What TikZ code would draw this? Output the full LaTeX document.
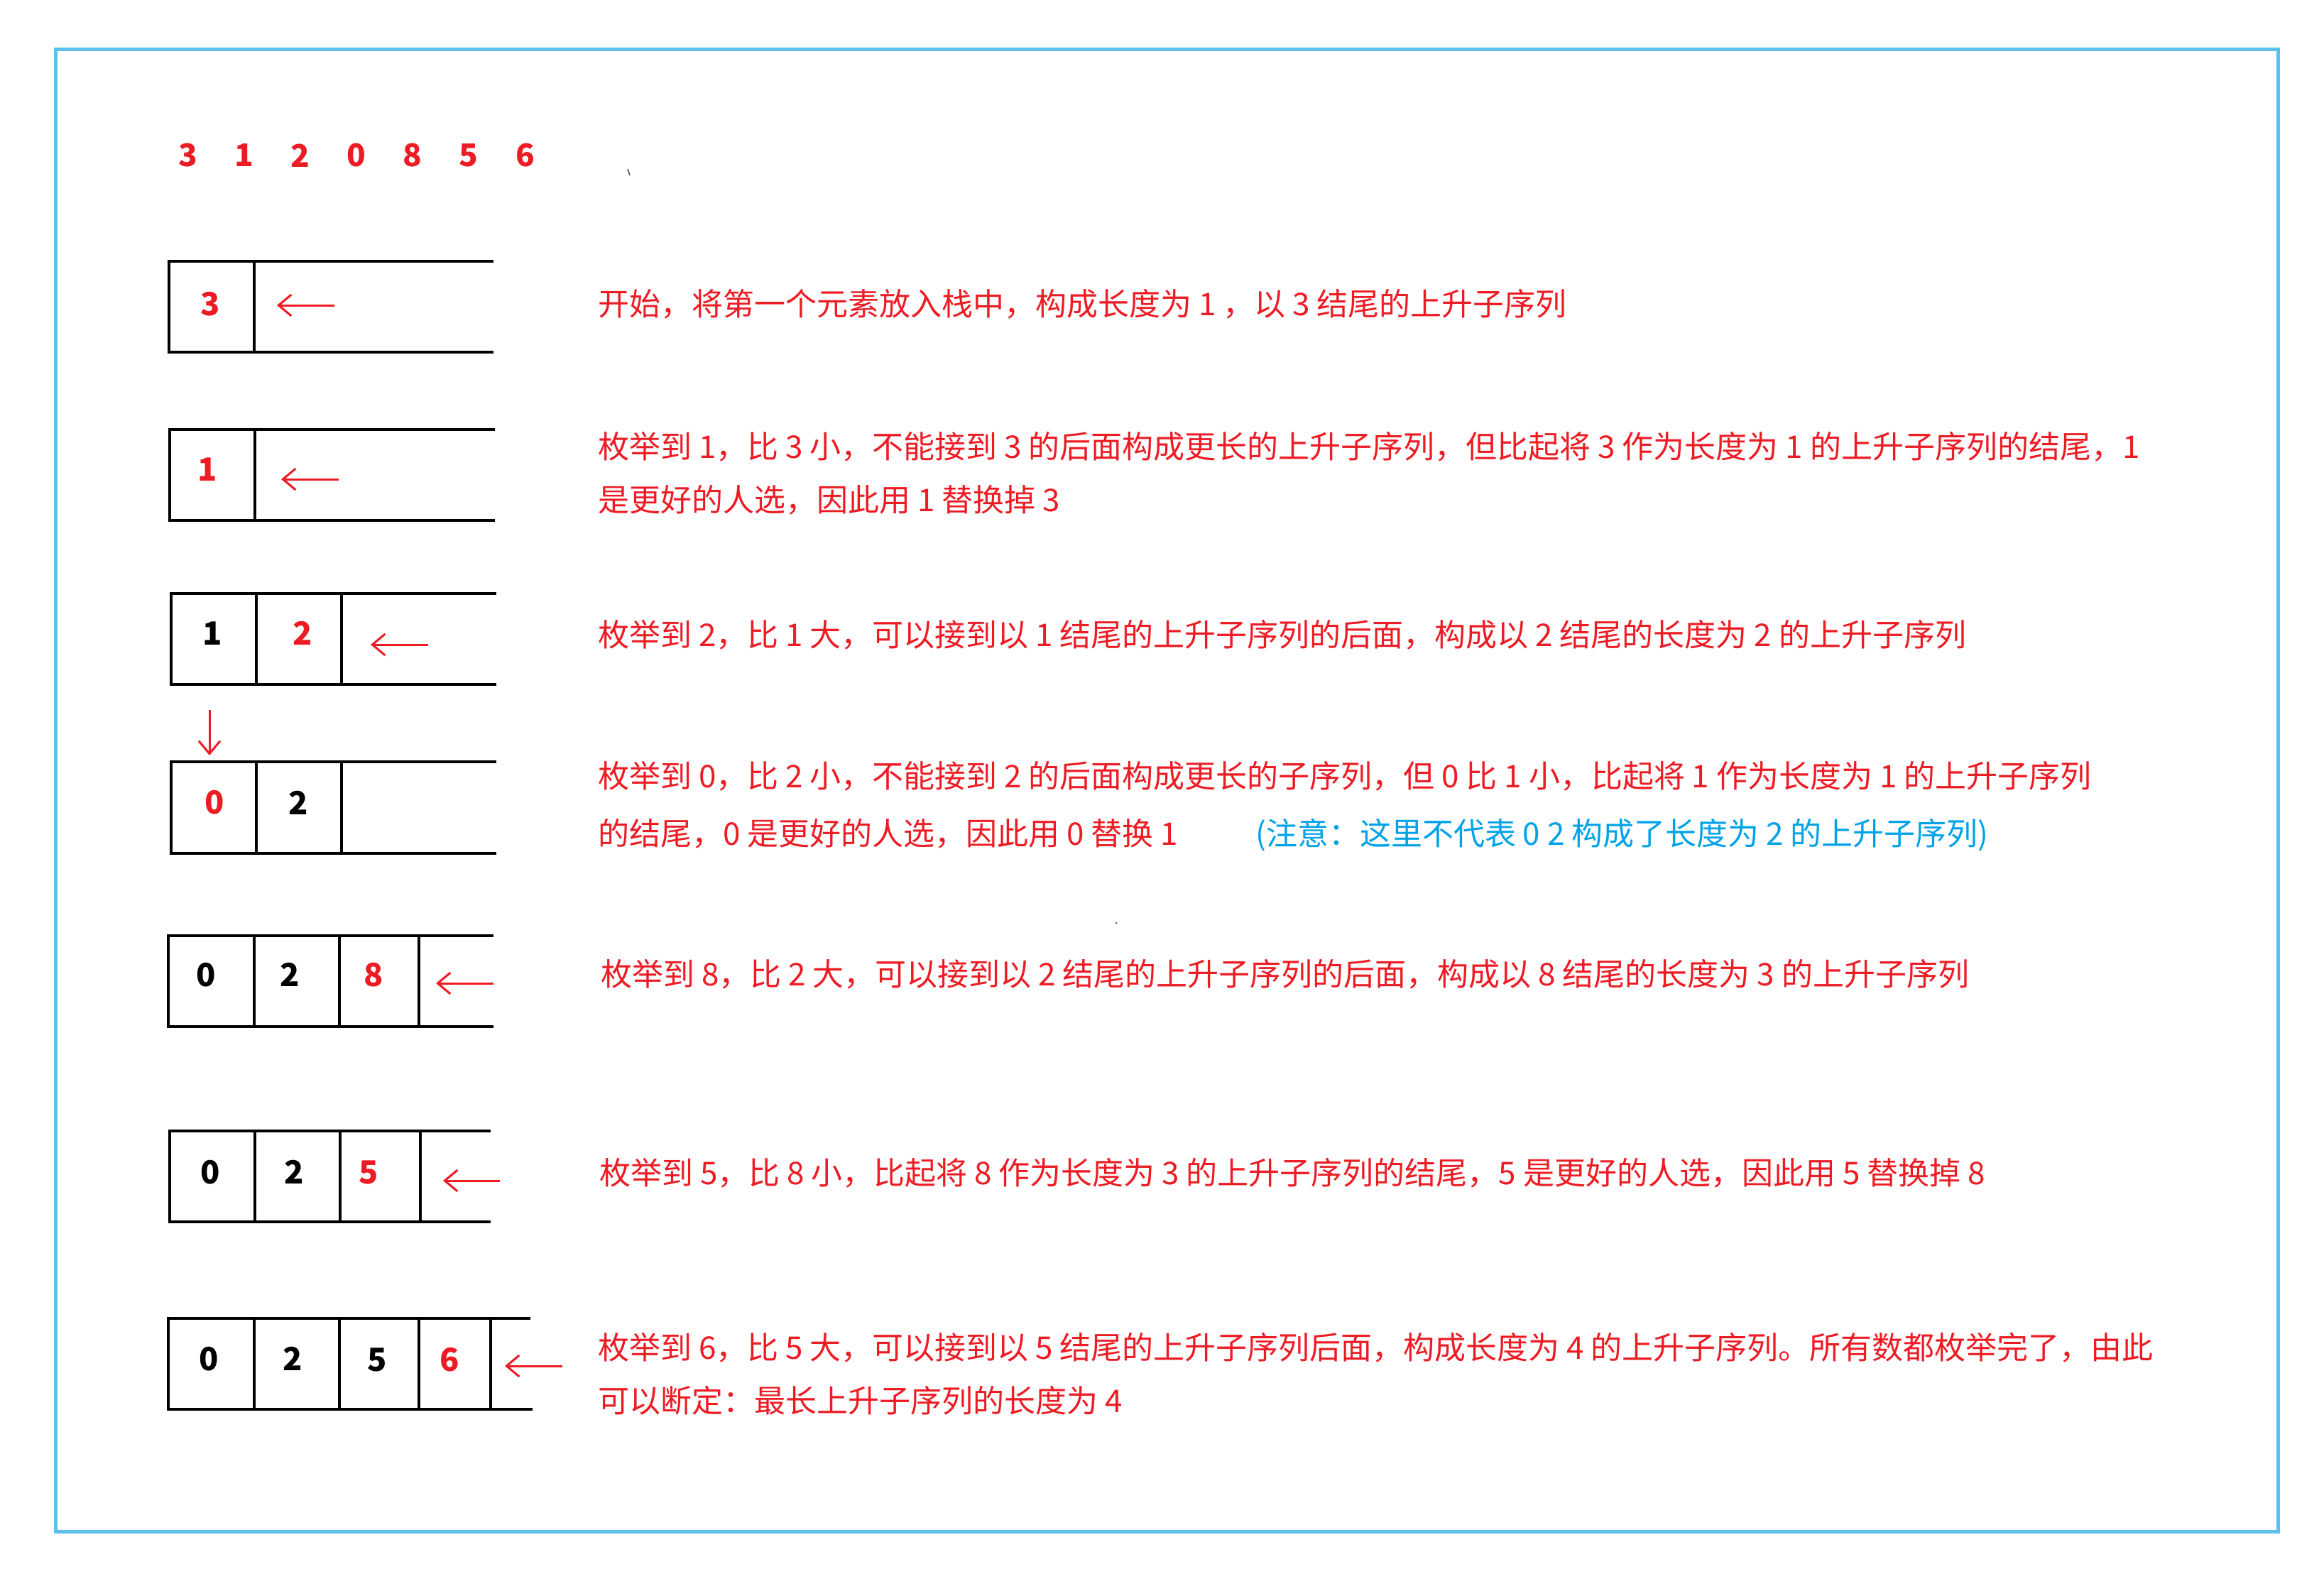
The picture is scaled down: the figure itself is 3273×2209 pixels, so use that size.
\documentclass[tikz,border=0pt]{standalone}
\usepackage{fontspec}
\setmainfont{Noto Sans CJK SC}
\usetikzlibrary{arrows.meta}
\definecolor{tred}{RGB}{237,28,36}
\definecolor{tblue}{RGB}{0,162,232}
\definecolor{fblue}{RGB}{92,192,235}
\begin{document}
\begin{tikzpicture}[x=1pt,y=-1pt,
  desc/.style={anchor=base west, inner sep=0pt, text=tred, font=\fontsize{44}{52}\selectfont},
  digit/.style={inner sep=0pt, font=\fontsize{45}{54}\selectfont\bfseries},
  topnum/.style={inner sep=0pt, text=tred, font=\fontsize{44}{52}\selectfont\bfseries},
  cellline/.style={line width=4pt, black},
  ptr/.style={draw=tred, line width=3pt, -{Straight Barb[length=18pt,width=30pt]}}]
\useasboundingbox (0,0) rectangle (3273,2209);
\fill[white] (0,0) rectangle (3273,2209);
\draw[fblue, line width=5pt] (78,69) rectangle (3208,2157);

% sequence
\node[topnum] (s1) at (265,219) {3};
\node[topnum] (s2) at (344,219) {1};
\node[topnum] (s3) at (423,219) {2};
\node[topnum] (s4) at (502,219) {0};
\node[topnum] (s5) at (581,219) {8};
\node[topnum] (s6) at (660,219) {5};
\node[topnum] (s7) at (740,219) {6};
\draw[black!70, line width=1.5pt] (884,238) -- (887,247);

% row 1
\draw[cellline] (695,368) -- (238,368) -- (238,496) -- (695,496);
\draw[cellline] (358,368) -- (358,496);
\node[digit, text=tred] (r1a) at (296,428) {3};
\coordinate (r1t) at (471,430); \coordinate (r1h) at (390,430);
\draw[ptr] (r1t) -- (r1h);
\node[desc] (t1) at (842,444) {开始，将第一个元素放入栈中，构成长度为 1 ，以 3 结尾的上升子序列};

% row 2
\draw[cellline] (697,605) -- (239,605) -- (239,733) -- (697,733);
\draw[cellline] (359,605) -- (359,733);
\node[digit, text=tred] (r2a) at (292,661) {1};
\coordinate (r2t) at (477,675); \coordinate (r2h) at (396,675);
\draw[ptr] (r2t) -- (r2h);
\node[desc] (t2a) at (842,645) {枚举到 1，比 3 小，不能接到 3 的后面构成更长的上升子序列，但比起将 3 作为长度为 1 的上升子序列的结尾，1};
\node[desc] (t2b) at (842,720) {是更好的人选，因此用 1 替换掉 3};

% row 3
\draw[cellline] (699,836) -- (241,836) -- (241,964) -- (699,964);
\draw[cellline] (361,836) -- (361,964);
\draw[cellline] (481,836) -- (481,964);
\node[digit] (r3a) at (299,892) {1};
\node[digit, text=tred] (r3b) at (426,892) {2};
\coordinate (r3t) at (603,908); \coordinate (r3h) at (522,908);
\draw[ptr] (r3t) -- (r3h);
\node[desc] (t3) at (842,910) {枚举到 2，比 1 大，可以接到以 1 结尾的上升子序列的后面，构成以 2 结尾的长度为 2 的上升子序列};

% down arrow
\coordinate (dt) at (295,1000); \coordinate (dh) at (295,1064);
\draw[ptr] (dt) -- (dh);

% row 4
\draw[cellline] (699,1073) -- (241,1073) -- (241,1202) -- (699,1202);
\draw[cellline] (361,1073) -- (361,1202);
\draw[cellline] (481,1073) -- (481,1202);
\node[digit, text=tred] (r4a) at (302,1130) {0};
\node[digit] (r4b) at (420,1131) {2};
\node[desc] (t4a) at (842,1109) {枚举到 0，比 2 小，不能接到 2 的后面构成更长的子序列，但 0 比 1 小，比起将 1 作为长度为 1 的上升子序列};
\node[desc] (t4b) at (842,1190) {的结尾，0 是更好的人选，因此用 0 替换 1};
\node[desc, text=tblue] (t4c) at (1768,1190) {(注意：这里不代表 0 2 构成了长度为 2 的上升子序列)};

% row 5
\draw[cellline] (695,1318) -- (237,1318) -- (237,1446) -- (695,1446);
\draw[cellline] (358,1318) -- (358,1446);
\draw[cellline] (478,1318) -- (478,1446);
\draw[cellline] (590,1318) -- (590,1446);
\node[digit] (r5a) at (290,1373) {0};
\node[digit] (r5b) at (408,1373) {2};
\node[digit, text=tred] (r5c) at (526,1373) {8};
\coordinate (r5t) at (695,1385); \coordinate (r5h) at (614,1385);
\draw[ptr] (r5t) -- (r5h);
\node[desc] (t5) at (846,1388) {枚举到 8，比 2 大，可以接到以 2 结尾的上升子序列的后面，构成以 8 结尾的长度为 3 的上升子序列};
\fill[black!60] (1572,1300) circle (1.5pt);

% row 6
\draw[cellline] (691,1593) -- (239,1593) -- (239,1721) -- (691,1721);
\draw[cellline] (359,1593) -- (359,1721);
\draw[cellline] (479,1593) -- (479,1721);
\draw[cellline] (592,1593) -- (592,1721);
\node[digit] (r6a) at (296,1651) {0};
\node[digit] (r6b) at (414,1651) {2};
\node[digit, text=tred] (r6c) at (519,1651) {5};
\coordinate (r6t) at (704,1663); \coordinate (r6h) at (624,1663);
\draw[ptr] (r6t) -- (r6h);
\node[desc] (t6) at (844,1668) {枚举到 5，比 8 小，比起将 8 作为长度为 3 的上升子序列的结尾，5 是更好的人选，因此用 5 替换掉 8};

% row 7
\draw[cellline] (747,1857) -- (237,1857) -- (237,1985) -- (750,1985);
\draw[cellline] (358,1857) -- (358,1985);
\draw[cellline] (478,1857) -- (478,1985);
\draw[cellline] (590,1857) -- (590,1985);
\draw[cellline] (691,1857) -- (691,1985);
\node[digit] (r7a) at (294,1914) {0};
\node[digit] (r7b) at (412,1914) {2};
\node[digit] (r7c) at (531,1915) {5};
\node[digit, text=tred] (r7d) at (633,1915) {6};
\coordinate (r7t) at (792,1924); \coordinate (r7h) at (711,1924);
\draw[ptr] (r7t) -- (r7h);
\node[desc] (t7a) at (842,1914) {枚举到 6，比 5 大，可以接到以 5 结尾的上升子序列后面，构成长度为 4 的上升子序列。所有数都枚举完了，由此};
\node[desc] (t7b) at (842,1989) {可以断定：最长上升子序列的长度为 4};
\end{tikzpicture}
\end{document}
